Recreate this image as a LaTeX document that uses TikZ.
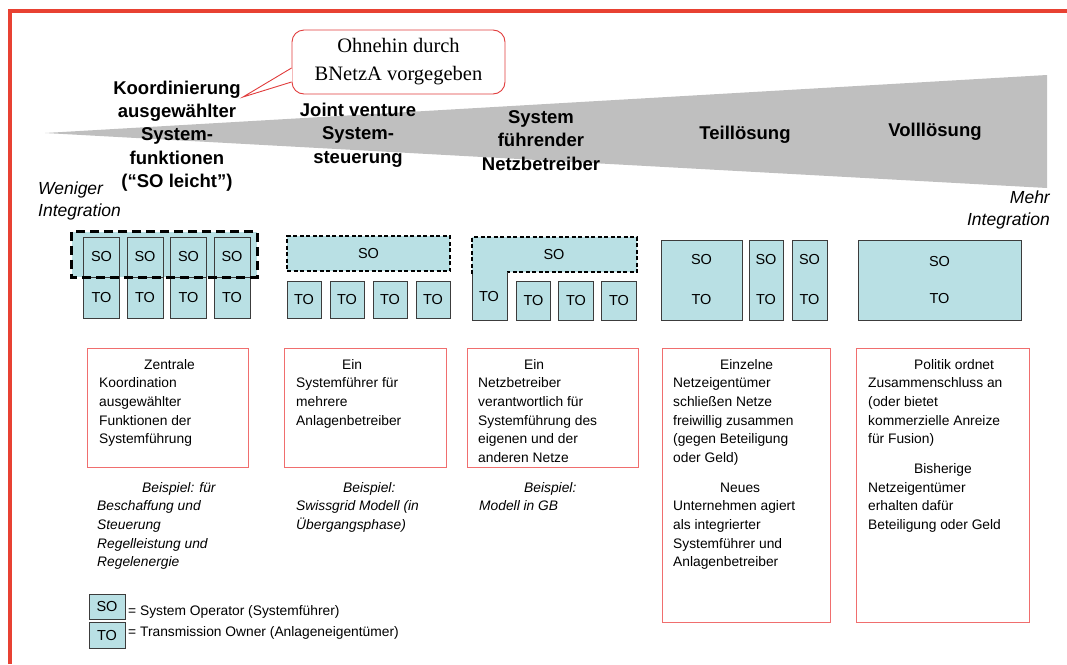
\documentclass[tikz,border=0pt]{standalone}
\usepackage{fontspec}
\setmainfont{Liberation Sans}
\newfontfamily\calloutfont{Liberation Serif}
\definecolor{cyanfill}{RGB}{185,224,228}
\definecolor{boxline}{RGB}{60,60,60}
\definecolor{framered}{RGB}{232,65,50}
\definecolor{textred}{RGB}{240,110,110}
\definecolor{wedgegray}{RGB}{191,191,191}
\definecolor{calloutred}{RGB}{225,60,60}
\newcommand{\lines}[1]{\begin{tabular}{@{}l@{}}#1\end{tabular}}
\begin{document}
\begin{tikzpicture}[x=1pt,y=-1pt,
  box/.style={draw=boxline, fill=cyanfill, line width=0.8pt, inner sep=0pt, font=\fontsize{14.5}{17}\selectfont},
  lbl/.style={inner sep=0pt, font=\fontsize{14.5}{17}\selectfont},
  head/.style={font=\fontsize{18.5}{23.3}\selectfont\bfseries, align=center, inner sep=0pt},
  side/.style={font=\fontsize{17.5}{22}\selectfont\itshape, inner sep=0pt},
  desc/.style={anchor=north west, inner sep=0pt, font=\fontsize{13.8}{18.6}\selectfont},
  example/.style={anchor=north west, inner sep=0pt, font=\fontsize{13.8}{18.6}\selectfont\itshape},
  redbox/.style={draw=textred, line width=1pt, inner sep=0pt},
  dashA/.style={draw=black, line width=3pt, dash pattern=on 9pt off 5pt},
  dashB/.style={draw=black, line width=1.6pt, dash pattern=on 4pt off 2.5pt},
  legend/.style={anchor=west, inner sep=0pt, font=\fontsize{13.8}{16}\selectfont}
]
\useasboundingbox (0,0) rectangle (1067,664);

% frame
\draw[framered, line width=4.5pt] (9.8,664) -- (9.8,11) -- (1067,11);

% wedge
\coordinate (wtip) at (45,133);
\coordinate (wtop) at (1047,75);
\coordinate (wbot) at (1047,188);
\fill[wedgegray] (wtip) -- (wtop) -- (wbot) -- cycle;

% headings
\node[head] (h1) at (177,136) {Koordinierung\\ausgewählter\\System-\\funktionen\\(“SO leicht”)};
\node[head] (h2) at (358,135) {Joint venture\\System-\\steuerung};
\node[head] (h3) at (541,140.5) {System\\führender\\Netzbetreiber};
\node[head] (h4) at (745,135) {Teillösung};
\node[head] (h5) at (935,132) {Volllösung};

\node[side, anchor=north west, align=left] (less) at (38,182) {Weniger\\Integration};
\node[side, anchor=north east, align=right] (more) at (1050,191) {Mehr\\Integration};

% callout
\node[draw=calloutred, line width=0.9pt, fill=white, rounded corners=12pt,
      minimum width=213pt, minimum height=64pt, inner sep=0pt, align=center,
      font=\calloutfont\fontsize{20.5}{28}\selectfont] (call) at (398.5,62) {Ohnehin durch\\BNetzA vorgegeben};
\coordinate (tailtip) at (243,97);
\draw[calloutred, line width=0.9pt, fill=white] (call.west |- 0,68) -- (tailtip) -- (call.west |- 0,82);
\draw[white, line width=1.6pt] (call.west |- 0,69) -- (call.west |- 0,81);

% group 1
\node[fill=cyanfill, minimum width=185pt, minimum height=45pt, inner sep=0pt] (g1) at (164.5,254.5) {};
\foreach \i/\x in {1/101.5,2/145,3/188.5,4/232}{
  \node[box, minimum width=36pt, minimum height=40pt] (so\i) at (\x,257) {SO};
  \node[box, minimum width=36pt, minimum height=41pt] (to\i) at (\x,297.5) {TO};
}
\draw[dashA] (g1.north west) rectangle (g1.south east);

% group 2
\node[box, dashB, minimum width=163pt, minimum height=35pt] (so5) at (368.5,253.5) {SO};
\foreach \i/\x in {5/304,6/347,7/390,8/433}{
  \node[box, minimum width=34pt, minimum height=37pt] (to\i) at (\x,299.5) {TO};
}

% group 3 (L shape)
\fill[cyanfill] (472,237) -- (637,237) -- (637,272) -- (507,272) -- (507,320) -- (472,320) -- cycle;
\draw[dashB] (472,274) -- (472,237) -- (637,237) -- (637,272) -- (507,272);
\draw[boxline, line width=0.8pt] (472,274) -- (472,320) -- (507,320) -- (507,272);
\node[lbl] (so6) at (554,255) {SO};
\node[lbl] (to9) at (489,297) {TO};
\foreach \i/\x in {10/533.5,11/576,12/619}{
  \node[box, minimum width=34.5pt, minimum height=39pt] (to\i) at (\x,300.5) {TO};
}

% group 4
\node[box, align=center, minimum width=81pt, minimum height=80pt] (t1) at (701.5,280) {SO\\[23pt]TO};
\node[box, align=center, minimum width=34pt, minimum height=80pt] (t2) at (766,280) {SO\\[23pt]TO};
\node[box, align=center, minimum width=35pt, minimum height=80pt] (t3) at (809.5,280) {SO\\[23pt]TO};

% group 5
\node[box, align=center, minimum width=163pt, minimum height=80pt] (v1) at (939.5,280) {SO\\[20pt]TO};

% description boxes
\node[redbox, minimum width=161pt, minimum height=119pt] (d1) at (167.5,407.5) {};
\node[redbox, minimum width=162pt, minimum height=119pt] (d2) at (365,407.5) {};
\node[redbox, minimum width=171pt, minimum height=119pt] (d3) at (552.5,407.5) {};
\node[redbox, minimum width=168pt, minimum height=274pt] (d4) at (746,485) {};
\node[redbox, minimum width=173pt, minimum height=274pt] (d5) at (942.5,485) {};

\node[desc] (t_d1) at (99,356) {\lines{\hspace*{45pt}Zentrale\\Koordination\\ausgewählter\\Funktionen der\\Systemführung}};
\node[desc] (t_d2) at (296,356) {\lines{\hspace*{46pt}Ein\\Systemführer für\\mehrere\\Anlagenbetreiber}};
\node[desc] (t_d3) at (478,356) {\lines{\hspace*{46pt}Ein\\Netzbetreiber\\verantwortlich für\\Systemführung des\\eigenen und der\\anderen Netze}};
\node[desc] (t_d4) at (673,356) {\lines{\hspace*{47pt}Einzelne\\Netzeigentümer\\schließen Netze\\freiwillig zusammen\\(gegen Beteiligung\\oder Geld)\\[11.5pt]\hspace*{47pt}Neues\\Unternehmen agiert\\als integrierter\\Systemführer und\\Anlagenbetreiber}};
\node[desc] (t_d5) at (868,356) {\lines{\hspace*{46pt}Politik ordnet\\Zusammenschluss an\\(oder bietet\\kommerzielle Anreize\\für Fusion)\\[11.5pt]\hspace*{46pt}Bisherige\\Netzeigentümer\\erhalten dafür\\Beteiligung oder Geld}};

% examples
\node[example] (e1) at (97,479) {\lines{\hspace*{45pt}Beispiel: für\\Beschaf\kern0pt fung und\\Steuerung\\Regelleistung und\\Regelenergie}};
\node[example] (e2) at (296,479) {\lines{\hspace*{47pt}Beispiel:\\Swissgrid Modell (in\\Übergangsphase)}};
\node[example] (e3) at (479,479) {\lines{\hspace*{45pt}Beispiel:\\Modell in GB}};

% legend
\node[box, minimum width=36pt, minimum height=25pt] (lso) at (107,606.5) {SO};
\node[box, minimum width=36pt, minimum height=26pt] (lto) at (107,635) {TO};
\node[legend] (lsot) at (128,612) {= System Operator (Systemführer)};
\node[legend] (ltot) at (128,633) {= Transmission Owner (Anlageneigentümer)};
\end{tikzpicture}
\end{document}
